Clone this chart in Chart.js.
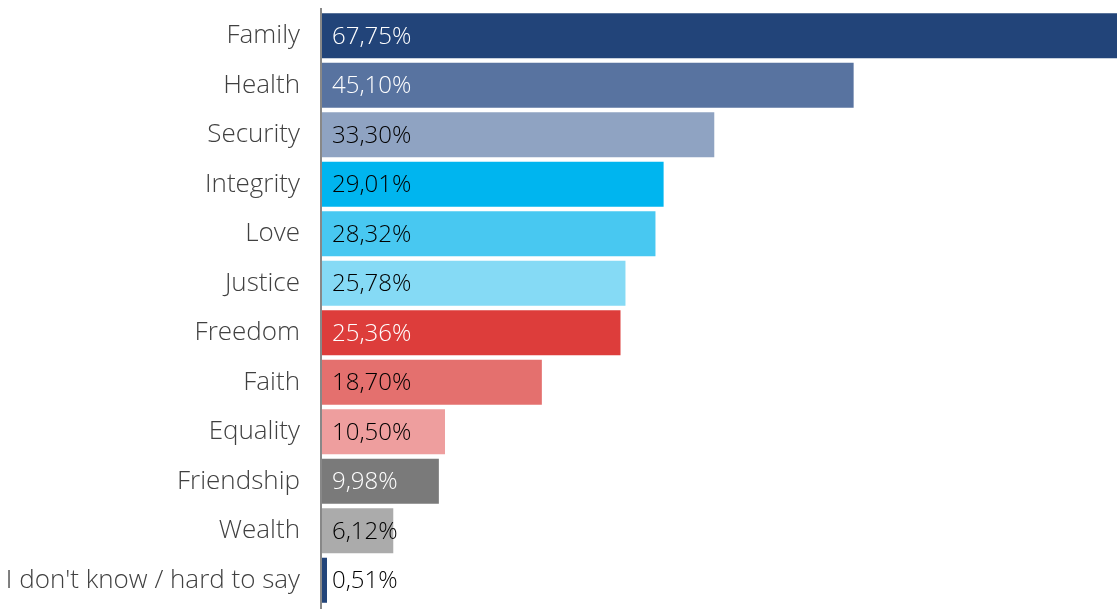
<!DOCTYPE html>
<html>
<head>
<meta charset="utf-8">
<script src="https://cdn.jsdelivr.net/npm/chart.js@4/dist/chart.umd.min.js"></script>
<style>
  html, body { margin: 0; padding: 0; background: #fff; }
  #wrap { width: 1117px; height: 609px; }
</style>
</head>
<body>
<div id="wrap"><canvas id="barChart"></canvas></div>
<script>
const categories = ["Family", "Health", "Security", "Integrity", "Love", "Justice",
  "Freedom", "Faith", "Equality", "Friendship", "Wealth", "I don't know / hard to say"];
const values = [67.75, 45.10, 33.30, 29.01, 28.32, 25.78, 25.36, 18.70, 10.50, 9.98, 6.12, 0.51];
const barColors = ["#224479", "#5873a0", "#8fa3c2", "#00b5ef", "#48c8f1", "#85daf5",
  "#dd3d3b", "#e4706e", "#ee9e9e", "#7a7a7a", "#ababab", "#224479"];
const labelColors = ["#fff", "#fff", "#000", "#000", "#000", "#000",
  "#fff", "#000", "#000", "#fff", "#000", "#000"];

const FONT = "'Open Sans', sans-serif";

// value labels at the start of each bar + the grey axis line
const barLabels = {
  id: 'barLabels',
  afterDatasetsDraw(chart) {
    const ctx = chart.ctx;
    const x0 = chart.scales.x.getPixelForValue(0);
    ctx.save();
    ctx.strokeStyle = '#888';
    ctx.lineWidth = 2;
    ctx.beginPath();
    ctx.moveTo(x0, chart.chartArea.top - 3);
    ctx.lineTo(x0, chart.height);
    ctx.stroke();

    ctx.font = '300 24px ' + FONT;
    ctx.textBaseline = 'middle';
    ctx.textAlign = 'left';
    chart.getDatasetMeta(0).data.forEach((bar, i) => {
      ctx.fillStyle = labelColors[i];
      ctx.fillText(values[i].toFixed(2).replace('.', ',') + '%', x0 + 11, bar.y + 1);
    });
    ctx.restore();
  }
};

new Chart(document.getElementById('barChart'), {
  type: 'bar',
  data: {
    labels: categories,
    datasets: [{
      data: values,
      backgroundColor: barColors,
      borderWidth: 0,
      barPercentage: 0.91,
      categoryPercentage: 1.0
    }]
  },
  options: {
    indexAxis: 'y',
    responsive: true,
    maintainAspectRatio: false,
    animation: false,
    layout: { padding: { top: 11, bottom: 4, left: 0, right: 0 } },
    plugins: {
      legend: { display: false },
      tooltip: { enabled: false }
    },
    scales: {
      x: {
        display: false,
        min: 0,
        max: 67.4
      },
      y: {
        border: { display: false },
        grid: { display: false, drawTicks: false },
        ticks: {
          color: '#404040',
          padding: 21,
          font: { family: FONT, size: 26, weight: '300' }
        },
        afterFit(scale) {
          scale.width = 321;
          scale.paddingTop = 0;
          scale.paddingBottom = 0;
        }
      }
    }
  },
  plugins: [barLabels]
});
</script>
</body>
</html>
